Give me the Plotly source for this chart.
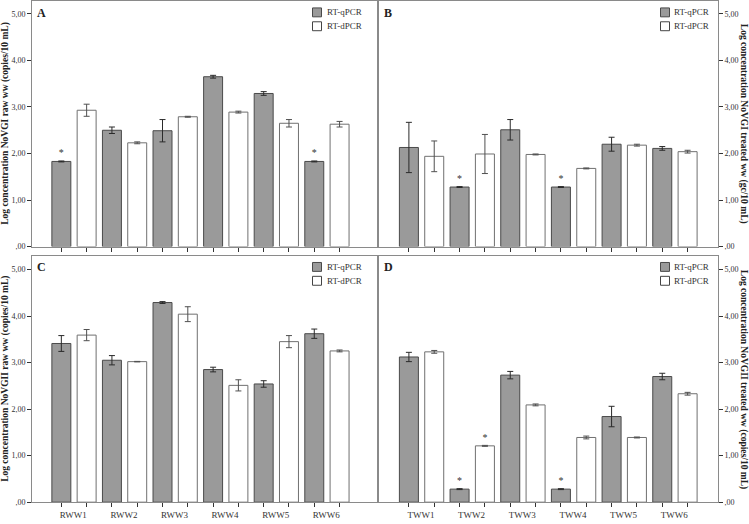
import plotly.graph_objects as go

W, H = 749, 524

# ---------------- data ----------------
series_names = ["RT-qPCR", "RT-dPCR"]
raw_sites = ["RWW1", "RWW2", "RWW3", "RWW4", "RWW5", "RWW6"]
treated_sites = ["TWW1", "TWW2", "TWW3", "TWW4", "TWW5", "TWW6"]
y_tick_vals = [0, 1, 2, 3, 4, 5]
y_tick_text = [",00", "1,00", "2,00", "3,00", "4,00", "5,00"]

# Panel A: NoVGI raw wastewater (copies/10 mL)
a_qpcr = [1.83, 2.50, 2.49, 3.65, 3.29, 1.83]
a_qpcr_err = [0.01, 0.07, 0.24, 0.03, 0.04, 0.01]
a_qpcr_star = [1, 0, 0, 0, 0, 1]
a_dpcr = [2.93, 2.23, 2.79, 2.89, 2.65, 2.63]
a_dpcr_err = [0.13, 0.02, 0.01, 0.02, 0.08, 0.06]
a_dpcr_star = [0, 0, 0, 0, 0, 0]

# Panel B: NoVGI treated wastewater (gc/10 mL)
b_qpcr = [2.13, 1.28, 2.51, 1.28, 2.20, 2.11]
b_qpcr_err = [0.54, 0.01, 0.22, 0.01, 0.15, 0.04]
b_qpcr_star = [0, 1, 0, 1, 0, 0]
b_dpcr = [1.94, 1.99, 1.98, 1.68, 2.18, 2.04]
b_dpcr_err = [0.33, 0.42, 0.01, 0.01, 0.02, 0.03]
b_dpcr_star = [0, 0, 0, 0, 0, 0]

# Panel C: NoVGII raw wastewater (copies/10 mL)
c_qpcr = [3.41, 3.05, 4.29, 2.85, 2.54, 3.62]
c_qpcr_err = [0.17, 0.10, 0.02, 0.05, 0.07, 0.10]
c_qpcr_star = [0, 0, 0, 0, 0, 0]
c_dpcr = [3.59, 3.02, 4.04, 2.51, 3.45, 3.25]
c_dpcr_err = [0.12, 0.005, 0.16, 0.12, 0.13, 0.02]
c_dpcr_star = [0, 0, 0, 0, 0, 0]

# Panel D: NoVGII treated wastewater (copies/10 mL)
d_qpcr = [3.12, 0.28, 2.73, 0.28, 1.84, 2.70]
d_qpcr_err = [0.10, 0.01, 0.08, 0.01, 0.22, 0.07]
d_qpcr_star = [0, 1, 0, 1, 0, 0]
d_dpcr = [3.23, 1.21, 2.09, 1.39, 1.39, 2.33]
d_dpcr_err = [0.03, 0.01, 0.02, 0.03, 0.01, 0.03]
d_dpcr_star = [0, 1, 0, 0, 0, 0]

panels = [
    dict(letter="A", sites=raw_sites, q=a_qpcr, qe=a_qpcr_err, qs=a_qpcr_star,
         d=a_dpcr, de=a_dpcr_err, ds=a_dpcr_star, labels=False,
         title="Log concentration NoVGI raw ww (copies/10 mL)"),
    dict(letter="B", sites=treated_sites, q=b_qpcr, qe=b_qpcr_err, qs=b_qpcr_star,
         d=b_dpcr, de=b_dpcr_err, ds=b_dpcr_star, labels=False,
         title="Log concentration NoVGI treated ww (gc/10 mL)"),
    dict(letter="C", sites=raw_sites, q=c_qpcr, qe=c_qpcr_err, qs=c_qpcr_star,
         d=c_dpcr, de=c_dpcr_err, ds=c_dpcr_star, labels=True,
         title="Log concentration NoVGII raw ww (copies/10 mL)"),
    dict(letter="D", sites=treated_sites, q=d_qpcr, qe=d_qpcr_err, qs=d_qpcr_star,
         d=d_dpcr, de=d_dpcr_err, ds=d_dpcr_star, labels=True,
         title="Log concentration NoVGII treated ww (copies/10 mL)"),
]

# ---------------- layout geometry (pixels) ----------------
boxes = [  # left, right, top, bottom
    (32, 377, 1, 249),
    (379, 718, 1, 249),
    (32, 377, 258, 507),
    (379, 718, 258, 507),
]
x_ranges = [[-0.83, 5.99], [-0.84, 5.85], [-0.83, 5.99], [-0.84, 5.85]]
y_ranges = [[0, 5.277], [0, 5.277], [0, 5.30], [0, 5.30]]
y_side = ["left", "right", "left", "right"]

SERIF = "Liberation Serif, Times New Roman, serif"
GRAY_FILL = "#9a9a9a"
GRAY_LINE = "#4a4a4a"
WHITE_LINE = "#707070"
FRAME = "#8a8a8a"


def px(x):
    return x / W


def py(y):
    return 1 - y / H


fig = go.Figure()
annotations = []
shapes = []
layout_axes = {}

for k, p in enumerate(panels):
    n = k + 1
    xa = "x" if n == 1 else f"x{n}"
    ya = "y" if n == 1 else f"y{n}"
    idx = list(range(len(p["sites"])))
    for name, vals, errs, stars, fill, line, ecol in [
        (series_names[0], p["q"], p["qe"], p["qs"], GRAY_FILL, GRAY_LINE, "#2a2a2a"),
        (series_names[1], p["d"], p["de"], p["ds"], "#ffffff", WHITE_LINE, "#505050"),
    ]:
        fig.add_trace(go.Bar(
            x=idx, y=vals, name=name, xaxis=xa, yaxis=ya, showlegend=False,
            marker=dict(color=fill, line=dict(color=line, width=1)),
            error_y=dict(type="data", array=errs, color=ecol, thickness=1, width=3),
            text=["*" if s else "" for s in stars], textposition="outside",
            textfont=dict(family=SERIF, size=10, color="#333333"),
            cliponaxis=False, hoverinfo="x+y",
        ))

    l, r, t, b = boxes[k]
    # bar-centre ticks (two bars per site, grouped with no gap)
    tickvals = [i + o for i in idx for o in (-0.25, 0.25)]
    ticktext = [(p["sites"][i] if (o < 0 and p["labels"]) else "") for i in idx for o in (-0.25, 0.25)]
    xkey = "xaxis" if n == 1 else f"xaxis{n}"
    ykey = "yaxis" if n == 1 else f"yaxis{n}"
    layout_axes[xkey] = dict(
        domain=[px(l), px(r)], anchor=ya, range=x_ranges[k], type="linear",
        tickmode="array", tickvals=tickvals, ticktext=ticktext,
        ticks="outside", ticklen=4, tickcolor="#333333", tickwidth=1,
        ticklabelshift=12,
        tickfont=dict(family=SERIF, size=9, color="#333333"),
        showline=True, linecolor=FRAME, linewidth=1, mirror=True,
        showgrid=False, zeroline=False, fixedrange=True,
    )
    layout_axes[ykey] = dict(
        domain=[py(b), py(t)], anchor=xa, range=y_ranges[k], side=y_side[k],
        tickmode="array", tickvals=y_tick_vals, ticktext=y_tick_text,
        ticks="outside", ticklen=4, tickcolor="#333333", tickwidth=1,
        tickfont=dict(family=SERIF, size=8, color="#333333"),
        showline=True, linecolor=FRAME, linewidth=1, mirror=True,
        showgrid=False, zeroline=False, fixedrange=True,
    )

    # panel letter
    annotations.append(dict(
        text=f"<b>{p['letter']}</b>", x=px(l + 3), y=py(t + 12), xref="paper", yref="paper",
        xanchor="left", yanchor="middle", showarrow=False,
        font=dict(family=SERIF, size=12, color="#222222")))

    # y-axis title
    if y_side[k] == "left":
        annotations.append(dict(
            text=f"<b>{p['title']}</b>", x=px(6), y=py((t + b) / 2), xref="paper", yref="paper",
            xanchor="center", yanchor="middle", textangle=-90, showarrow=False,
            font=dict(family=SERIF, size=9.5, color="#222222")))
    else:
        annotations.append(dict(
            text=f"<b>{p['title']}</b>", x=px(743), y=py((t + b) / 2), xref="paper", yref="paper",
            xanchor="center", yanchor="middle", textangle=90, showarrow=False,
            font=dict(family=SERIF, size=9.5, color="#222222")))

    # legend (swatch + text) in the top-right corner of each panel
    sw_cx = 317 if n in (1, 3) else 665
    tx = 325 if n in (1, 3) else 672
    for j, (nm, fill, line) in enumerate([(series_names[0], GRAY_FILL, GRAY_LINE),
                                          (series_names[1], "#ffffff", "#444444")]):
        cy = t + 11.5 + 14 * j
        shapes.append(dict(type="rect", xref="paper", yref="paper",
                           x0=px(sw_cx - 4.5), x1=px(sw_cx + 4.5),
                           y0=py(cy + 4.5), y1=py(cy - 4.5),
                           fillcolor=fill, line=dict(color=line, width=1)))
        annotations.append(dict(
            text=nm, x=px(tx), y=py(cy), xref="paper", yref="paper",
            xanchor="left", yanchor="middle", showarrow=False,
            font=dict(family=SERIF, size=9, color="#333333")))

fig.update_layout(
    width=W, height=H,
    margin=dict(l=0, r=0, t=0, b=0),
    paper_bgcolor="white", plot_bgcolor="white",
    barmode="group", bargap=0, bargroupgap=0.25,
    annotations=annotations, shapes=shapes,
    showlegend=False,
    **layout_axes,
)

fig.write_html(
    "out.html",
    config={"displayModeBar": False},
    post_script="document.body.style.margin='0';document.body.style.padding='0';",
)
